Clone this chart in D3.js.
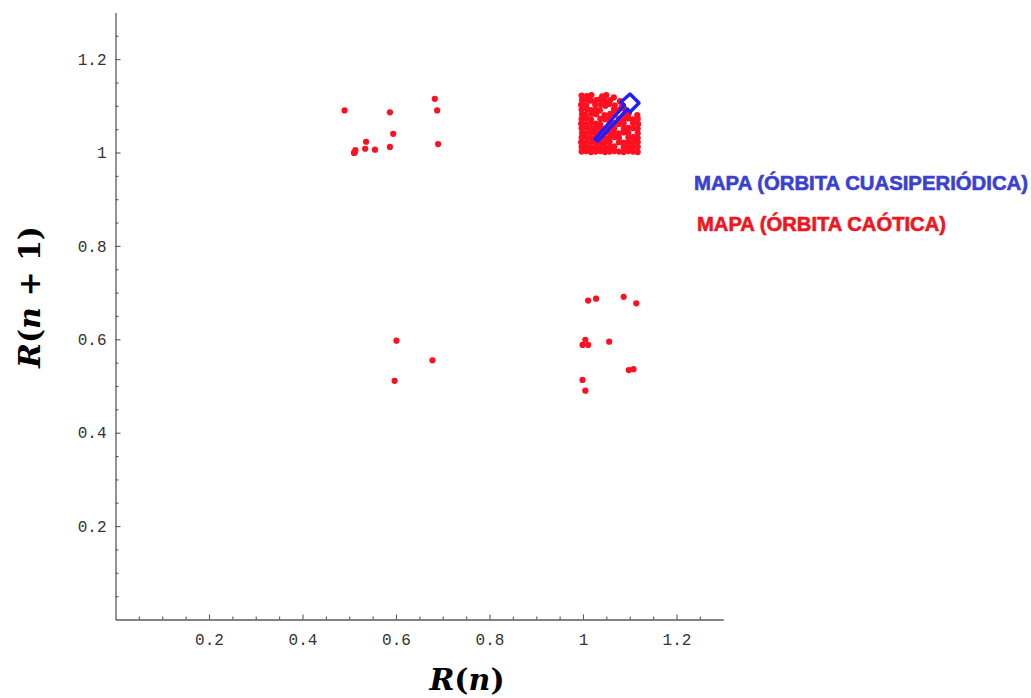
<!DOCTYPE html>
<html>
<head>
<meta charset="utf-8">
<script src="https://cdn.jsdelivr.net/npm/d3@7"></script>
<style>
  html, body { margin: 0; padding: 0; background: #ffffff; }
  svg { display: block; }
</style>
</head>
<body>
<svg id="chart" width="1031" height="698"></svg>
<script>
// Return map R(n) -> R(n+1)
const xDomain = [0, 1.3];
const yDomain = [0, 1.3];

// Tick values and labels (same on both axes)
const majorTicks = [0.2, 0.4, 0.6, 0.8, 1, 1.2];
const majorLabels = ["0.2", "0.4", "0.6", "0.8", "1", "1.2"];
const minorTicks = [0.05, 0.1, 0.15, 0.25, 0.3, 0.35, 0.45, 0.5, 0.55, 0.65, 0.7, 0.75,
                    0.85, 0.9, 0.95, 1.05, 1.1, 1.15, 1.25];

// Chaotic orbit: isolated iterates
const chaoticScattered = [
  [0.490, 1.090], [0.587, 1.086], [0.683, 1.115], [0.688, 1.090], [0.594, 1.040],
  [0.536, 1.023], [0.534, 1.008], [0.555, 1.006], [0.587, 1.012], [0.690, 1.018],
  [0.513, 1.005], [0.512, 1.000], [0.510, 0.999],
  [1.011, 0.683], [1.028, 0.687], [1.087, 0.691], [1.114, 0.677], [1.005, 0.599],
  [0.999, 0.588], [1.011, 0.588], [1.056, 0.595], [1.098, 0.534], [1.108, 0.536],
  [0.999, 0.513], [1.005, 0.490],
  [0.601, 0.597], [0.678, 0.555], [0.597, 0.511]
];

// Chaotic orbit: dense region near R = 1
const chaoticDense = [
  [0.997, 1.122], [1.008, 1.121], [1.018, 1.123], [1.041, 1.120], [1.050, 1.123], [1.066, 1.118],
  [0.998, 1.112], [1.006, 1.113], [1.016, 1.111], [1.028, 1.112], [1.036, 1.114], [1.046, 1.111],
  [1.058, 1.112], [1.079, 1.110],
  [0.996, 1.102], [1.007, 1.101], [1.026, 1.103], [1.038, 1.102], [1.048, 1.100], [1.056, 1.104],
  [1.068, 1.101], [1.083, 1.099],
  [0.997, 1.092], [1.008, 1.093], [1.017, 1.091], [1.027, 1.092], [1.036, 1.090], [1.066, 1.093],
  [1.076, 1.091], [1.088, 1.094],
  [0.998, 1.082], [1.006, 1.081], [1.018, 1.083], [1.028, 1.082], [1.046, 1.080], [1.058, 1.083],
  [1.067, 1.082], [1.089, 1.081], [1.098, 1.084], [1.116, 1.080],
  [0.997, 1.072], [1.007, 1.073], [1.017, 1.071], [1.037, 1.072], [1.047, 1.071], [1.056, 1.073],
  [1.077, 1.072], [1.087, 1.070], [1.097, 1.073], [1.107, 1.071], [1.117, 1.072],
  [0.996, 1.062], [1.007, 1.061], [1.017, 1.063], [1.027, 1.062], [1.037, 1.060], [1.057, 1.062],
  [1.067, 1.063], [1.077, 1.061], [1.087, 1.062], [1.107, 1.063], [1.118, 1.061],
  [0.997, 1.052], [1.007, 1.053], [1.017, 1.051], [1.027, 1.052], [1.037, 1.052], [1.047, 1.051],
  [1.057, 1.053], [1.067, 1.052], [1.087, 1.051], [1.097, 1.053], [1.107, 1.052], [1.117, 1.051],
  [0.998, 1.042], [1.007, 1.041], [1.017, 1.043], [1.027, 1.042], [1.037, 1.041], [1.047, 1.043],
  [1.057, 1.042], [1.067, 1.042], [1.077, 1.041], [1.087, 1.043], [1.097, 1.042], [1.117, 1.041],
  [0.997, 1.032], [1.007, 1.033], [1.017, 1.031], [1.027, 1.032], [1.037, 1.033], [1.047, 1.031],
  [1.057, 1.032], [1.067, 1.033], [1.077, 1.031], [1.097, 1.032], [1.107, 1.033], [1.117, 1.031],
  [0.996, 1.022], [1.007, 1.021], [1.017, 1.023], [1.027, 1.022], [1.037, 1.021], [1.047, 1.022],
  [1.057, 1.023], [1.077, 1.022], [1.087, 1.021], [1.097, 1.022], [1.107, 1.023], [1.117, 1.022],
  [0.997, 1.012], [1.007, 1.013], [1.017, 1.011], [1.027, 1.012], [1.037, 1.013], [1.047, 1.011],
  [1.057, 1.012], [1.067, 1.013], [1.087, 1.012], [1.097, 1.011], [1.107, 1.013], [1.117, 1.012],
  [0.997, 1.002], [1.007, 1.003], [1.017, 1.001], [1.027, 1.002], [1.037, 1.003], [1.047, 1.001],
  [1.057, 1.002], [1.067, 1.003], [1.077, 1.002], [1.087, 1.001], [1.097, 1.003], [1.107, 1.002],
  [1.117, 1.001]
];

// Quasi-periodic orbit: closed invariant curve
const quasiOrbit = [
  [1.0888, 1.1017], [1.0813, 1.1081], [1.1005, 1.1253], [1.1198, 1.1060],
  [1.1005, 1.0867], [1.0952, 1.0931], [1.0321, 1.0246], [1.0257, 1.0289]
];

// Legend
const legendLabels = ["MAPA (ÓRBITA CUASIPERIÓDICA)", "MAPA (ÓRBITA CAÓTICA)"];
const legendColors = ["#3a41d2", "#ee1620"];

const pointColor = "#ff1020";
const orbitColor = "#1e1eff";

const svg = d3.select("#chart");
svg.append("rect").attr("width", 1031).attr("height", 698).attr("fill", "#ffffff");

const x = d3.scaleLinear().domain(xDomain).range([115.5, 723.25]);
const y = d3.scaleLinear().domain(yDomain).range([619.5, 12.4]);

const tickFont = "'Liberation Mono', 'Courier New', monospace";

function styleAxis(g) {
  g.selectAll(".domain").attr("stroke", "#5a5a5a").attr("stroke-width", 1.3);
  g.selectAll(".tick line").attr("stroke", "#5a5a5a").attr("stroke-width", 1.1);
  g.selectAll(".tick text").attr("fill", "#333333")
    .style("font-family", tickFont).style("font-size", "16px");
}

// x axis
const gx = svg.append("g").attr("transform", `translate(0,${y(0)})`)
  .call(d3.axisBottom(x).tickValues(majorTicks).tickFormat((d, i) => majorLabels[i])
    .tickSizeInner(-5).tickSizeOuter(0).tickPadding(14));
styleAxis(gx);
const gxm = svg.append("g").attr("transform", `translate(0,${y(0)})`)
  .call(d3.axisBottom(x).tickValues(minorTicks).tickFormat("").tickSizeInner(-3).tickSizeOuter(0));
gxm.select(".domain").remove();
styleAxis(gxm);

// y axis
const gy = svg.append("g").attr("transform", `translate(${x(0)},0)`)
  .call(d3.axisLeft(y).tickValues(majorTicks).tickFormat((d, i) => majorLabels[i])
    .tickSizeInner(-5).tickSizeOuter(0).tickPadding(9));
styleAxis(gy);
const gym = svg.append("g").attr("transform", `translate(${x(0)},0)`)
  .call(d3.axisLeft(y).tickValues(minorTicks).tickFormat("").tickSizeInner(-3).tickSizeOuter(0));
gym.select(".domain").remove();
styleAxis(gym);

// chaotic orbit points
svg.append("g").selectAll("circle")
  .data(chaoticDense.concat(chaoticScattered))
  .join("circle")
  .attr("cx", d => x(d[0]))
  .attr("cy", d => y(d[1]))
  .attr("r", 3.1)
  .attr("fill", pointColor);

// quasi-periodic orbit curve
const orbitLine = d3.line().x(d => x(d[0])).y(d => y(d[1])).curve(d3.curveLinearClosed);
svg.append("path")
  .datum(quasiOrbit)
  .attr("d", orbitLine)
  .attr("fill", "none")
  .attr("stroke", orbitColor)
  .attr("stroke-width", 3.4)
  .attr("stroke-linejoin", "round");

// axis titles
const titleFont = "'DejaVu Serif', serif";
const xt = svg.append("text")
  .attr("x", 467).attr("y", 690)
  .attr("text-anchor", "middle")
  .style("font-family", titleFont).style("font-size", "30px").style("font-weight", "bold")
  .attr("fill", "#000");
xt.append("tspan").style("font-style", "italic").text("R");
xt.append("tspan").text("(");
xt.append("tspan").style("font-style", "italic").text("n");
xt.append("tspan").text(")");

const yt = svg.append("text")
  .attr("transform", "translate(40,297) rotate(-90)")
  .attr("text-anchor", "middle")
  .style("font-family", titleFont).style("font-size", "30px").style("font-weight", "bold")
  .attr("fill", "#000");
yt.append("tspan").style("font-style", "italic").text("R");
yt.append("tspan").text("(");
yt.append("tspan").style("font-style", "italic").text("n");
yt.append("tspan").text(" + 1)");

// legend
const legendPos = [[694, 190], [697, 231]];
const legendWidths = [334, 249];
svg.append("g").selectAll("text")
  .data(legendLabels)
  .join("text")
  .attr("x", (d, i) => legendPos[i][0])
  .attr("y", (d, i) => legendPos[i][1])
  .attr("fill", (d, i) => legendColors[i])
  .attr("stroke", (d, i) => legendColors[i])
  .attr("stroke-width", 0.6)
  .attr("textLength", (d, i) => legendWidths[i])
  .attr("lengthAdjust", "spacingAndGlyphs")
  .style("font-family", "'Liberation Sans', Arial, sans-serif")
  .style("font-size", "20px")
  .style("font-weight", "bold")
  .text(d => d);
</script>
</body>
</html>
